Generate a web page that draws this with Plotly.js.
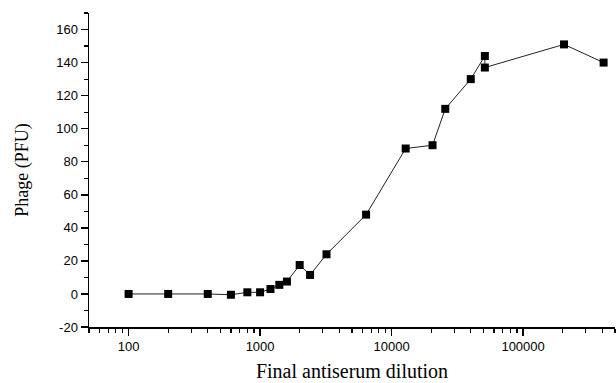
<!DOCTYPE html>
<html>
<head>
<meta charset="utf-8">
<script src="https://cdn.plot.ly/plotly-3.0.1.min.js"></script>
<style>
  html, body { margin: 0; padding: 0; background: #fff; }
  #chart { width: 616px; height: 383px; }
</style>
</head>
<body>
<div id="chart"></div>
<script>
// Data
const dilution = [100, 200, 400, 600, 800, 1000, 1200, 1400, 1600, 2000, 2400, 3200,
                  6400, 12800, 20480, 25600, 40000, 51200, 51200, 204800, 409600];
const phagePFU = [0, 0, 0, -0.5, 1, 1, 3, 5.5, 7.5, 17.5, 11.5, 24,
                  48, 88, 90, 112, 130, 144, 137, 151, 140];

const xTickVals = [100, 1000, 10000, 100000];
const xTickText = ['100', '1000', '10000', '100000'];
const yTickVals = [-20, 0, 20, 40, 60, 80, 100, 120, 140, 160];
const yTickText = ['-20', '0', '20', '40', '60', '80', '100', '120', '140', '160'];

const xTitle = 'Final antiserum dilution';
const yTitle = 'Phage (PFU)';

const trace = {
  x: dilution,
  y: phagePFU,
  type: 'scatter',
  mode: 'lines+markers',
  line: { color: '#222', width: 1 },
  marker: { symbol: 'square', size: 8, color: '#000' },
  cliponaxis: false,
  hoverinfo: 'x+y'
};

const tickFont = { family: 'Liberation Sans, Arial, sans-serif', size: 13, color: '#000' };
const titleFont = { family: 'Liberation Serif, Times New Roman, serif', color: '#000' };

const layout = {
  width: 616,
  height: 383,
  margin: { l: 89, r: 1, t: 13, b: 56 },
  paper_bgcolor: '#fff',
  plot_bgcolor: '#fff',
  showlegend: false,
  xaxis: {
    type: 'log',
    range: [Math.log10(50), Math.log10(500000)],
    tickmode: 'array',
    tickvals: xTickVals,
    ticktext: xTickText,
    ticks: 'outside',
    ticklen: 7,
    tickwidth: 1.5,
    tickcolor: '#000',
    minor: { dtick: 'D1', ticks: 'outside', ticklen: 4, tickwidth: 1.2, tickcolor: '#000', showgrid: false },
    showline: true,
    linecolor: '#000',
    linewidth: 1.5,
    showgrid: false,
    zeroline: false,
    tickfont: tickFont,
    title: { text: xTitle, font: Object.assign({ size: 20 }, titleFont), standoff: 11 }
  },
  yaxis: {
    range: [-20, 170],
    tickmode: 'array',
    tickvals: yTickVals,
    ticktext: yTickText,
    ticks: 'outside',
    ticklen: 7,
    tickwidth: 1.5,
    tickcolor: '#000',
    minor: { dtick: 10, ticks: 'outside', ticklen: 4, tickwidth: 1.2, tickcolor: '#000', showgrid: false },
    showline: true,
    linecolor: '#000',
    linewidth: 1.5,
    showgrid: false,
    zeroline: false,
    tickfont: tickFont,
    title: { text: yTitle, font: Object.assign({ size: 18 }, titleFont), standoff: 23 }
  }
};

Plotly.newPlot('chart', [trace], layout, { displayModeBar: false, staticPlot: true });
</script>
</body>
</html>
